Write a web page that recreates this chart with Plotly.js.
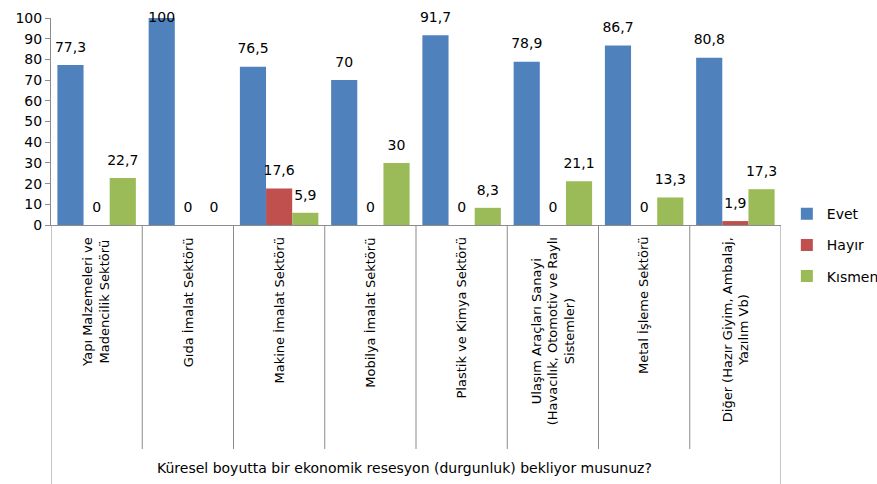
<!DOCTYPE html>
<html>
<head>
<meta charset="utf-8">
<script src="https://cdn.plot.ly/plotly-3.0.1.min.js"></script>
<style>html,body{margin:0;padding:0;background:#fff;}#chart{width:877px;height:484px;}</style>
</head>
<body>
<div id="chart"></div>
<script>
const categories = [
  "Yapı Malzemeleri ve<br>Madencilik Sektörü",
  "Gıda İmalat Sektörü",
  "Makine İmalat Sektörü",
  "Mobilya İmalat Sektörü",
  "Plastik ve Kimya Sektörü",
  "Ulaşım Araçları Sanayi<br>(Havacılık, Otomotiv ve Raylı<br>Sistemler)",
  "Metal İşleme Sektörü",
  "Diğer (Hazır Giyim, Ambalaj,<br>Yazılım Vb)"
];
const seriesNames = ["Evet", "Hayır", "Kısmen"];
const evet   = [77.3, 100, 76.5, 70, 91.7, 78.9, 86.7, 80.8];
const hayir  = [0, 0, 17.6, 0, 0, 0, 0, 1.9];
const kismen = [22.7, 0, 5.9, 30, 8.3, 21.1, 13.3, 17.3];
const yTicks = [0, 10, 20, 30, 40, 50, 60, 70, 80, 90, 100];
const yMax = 100;
const xTitle = "Küresel boyutta bir ekonomik resesyon (durgunluk) bekliyor musunuz?";

const colors = ["#4F81BD", "#C0504D", "#9BBB59"];
const FONT = "DejaVu Sans, Verdana, sans-serif";
const fmt = v => String(v).replace('.', ',');
const series = [evet, hayir, kismen];
const GAP = 0.14;

const traces = series.map((vals, i) => ({
  type: 'bar',
  name: seriesNames[i],
  legendgroup: 'g' + i,
  offsetgroup: 'o' + i,
  alignmentgroup: 'a',
  x: categories,
  y: vals,
  marker: {color: colors[i]},
  hoverinfo: 'skip'
}));

// data labels, aligned with the grouped bars
series.forEach((vals, i) => {
  traces.push({
    type: 'scatter',
    mode: 'markers+text',
    showlegend: false,
    offsetgroup: 'o' + i,
    alignmentgroup: 'a',
    x: categories,
    y: vals,
    text: vals.map(fmt),
    textposition: vals.map(v => v >= yMax ? 'middle center' : 'top center'),
    textfont: {family: FONT, size: 14, color: '#000'},
    marker: {size: 14, color: 'rgba(0,0,0,0)'},
    cliponaxis: false,
    hoverinfo: 'skip'
  });
});

const gray = '#8c8c8c';
const shapes = [];
for (let i = 0; i <= categories.length; i++) {
  const outer = (i === 0 || i === categories.length);
  shapes.push({
    type: 'line', xref: 'x', yref: 'paper',
    x0: i - 0.5, x1: i - 0.5,
    y0: 0, y1: outer ? -1.35 : -1.082,
    line: {color: gray, width: 1}
  });
}

const annotations = categories.map(c => ({
  xref: 'x', yref: 'paper', x: c, y: -0.05,
  xanchor: 'center', yanchor: 'top',
  text: c, textangle: -90, align: 'center', showarrow: false,
  font: {family: FONT, size: 13, color: '#000'}
}));
annotations.push({
  xref: 'paper', yref: 'paper', x: 0.484, y: -1.174,
  xanchor: 'center', yanchor: 'middle',
  text: xTitle, showarrow: false,
  font: {family: FONT, size: 14, color: '#000'}
});

const layout = {
  width: 877, height: 484,
  margin: {l: 51, r: 96, t: 18, b: 259, autoexpand: false},
  paper_bgcolor: '#fff', plot_bgcolor: '#fff',
  barmode: 'group', bargap: GAP, bargroupgap: 0,
  scattermode: 'group', scattergap: GAP,
  font: {family: FONT, size: 14, color: '#000'},
  xaxis: {
    type: 'category', range: [-0.5, categories.length - 0.5],
    showticklabels: false, showgrid: false, zeroline: false,
    showline: true, linecolor: gray, linewidth: 1, ticks: ''
  },
  yaxis: {
    range: [0, yMax], tickvals: yTicks, ticktext: yTicks.map(String),
    showgrid: false, zeroline: false,
    showline: true, linecolor: gray, linewidth: 1,
    ticks: 'outside', ticklen: 5, tickcolor: gray,
    tickfont: {family: FONT, size: 14, color: '#000'}
  },
  showlegend: true,
  legend: {
    x: 1.008, xanchor: 'left', y: 0.13, yanchor: 'top',
    traceorder: 'grouped', tracegroupgap: 10,
    font: {family: FONT, size: 14, color: '#000'},
    bgcolor: 'rgba(0,0,0,0)'
  },
  shapes: shapes,
  annotations: annotations
};

Plotly.newPlot('chart', traces, layout, {displayModeBar: false, staticPlot: true});
</script>
</body>
</html>
